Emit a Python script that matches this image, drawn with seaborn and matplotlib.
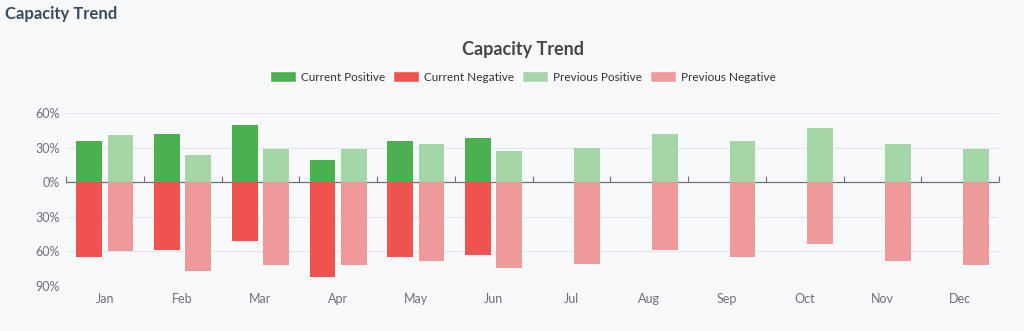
import matplotlib
matplotlib.use("Agg")
import matplotlib.pyplot as plt
import seaborn as sns
import pandas as pd
import numpy as np
from matplotlib.patches import Patch
from matplotlib.ticker import FuncFormatter

months = ["Jan", "Feb", "Mar", "Apr", "May", "Jun", "Jul", "Aug", "Sep", "Oct", "Nov", "Dec"]
current_positive = [36, 42, 50, 19, 36, 38, None, None, None, None, None, None]
current_negative = [-65, -59, -51, -82, -65, -63, None, None, None, None, None, None]
previous_positive = [41, 24, 29, 29, 33, 27, 30, 42, 36, 47, 33, 29]
previous_negative = [-60, -77, -72, -72, -68, -74, -71, -59, -65, -54, -68, -72]

BG = "#f8f9fb"
C_POS, C_NEG = "#4caf50", "#ef5350"
P_POS, P_NEG = "#a5d6a7", "#ef9a9a"
GRAY = "#6e7079"

sns.set_theme(style="white")
plt.rcParams["font.family"] = ["Lato", "DejaVu Sans"]

pos = pd.DataFrame({
    "month": months * 2,
    "period": ["Current"] * 12 + ["Previous"] * 12,
    "value": current_positive + previous_positive,
}).astype({"value": float})
neg = pd.DataFrame({
    "month": months * 2,
    "period": ["Current"] * 12 + ["Previous"] * 12,
    "value": current_negative + previous_negative,
}).astype({"value": float})

fig = plt.figure(figsize=(10.24, 3.31), dpi=100, facecolor=BG)
ax = fig.add_axes([66 / 1024, 45 / 331, (999 - 66) / 1024, (286 - 113) / 331])
ax.set_facecolor(BG)

for ys in (60, 30, -30, -60, -90):
    ax.axhline(ys, color="#e3e8f0", lw=0.9, zorder=0)
ax.axhline(0, color=GRAY, lw=0.9, zorder=1)

sns.barplot(data=pos, x="month", y="value", hue="period", order=months,
            hue_order=["Current", "Previous"],
            palette={"Current": C_POS, "Previous": P_POS},
            width=0.8, gap=0.17, ax=ax, legend=False, saturation=1, errorbar=None, zorder=2)
sns.barplot(data=neg, x="month", y="value", hue="period", order=months,
            hue_order=["Current", "Previous"],
            palette={"Current": C_NEG, "Previous": P_NEG},
            width=0.8, gap=0.17, ax=ax, legend=False, saturation=1, errorbar=None, zorder=2)
for p in ax.patches:
    p.set_linewidth(0)

ax.set_xlim(-0.5, 11.5)
ax.set_ylim(-90, 60)
ax.set_yticks([60, 30, 0, -30, -60, -90])
ax.yaxis.set_major_formatter(FuncFormatter(lambda v, _: f"{abs(int(v))}%"))
ax.tick_params(axis="y", length=0, pad=4.5, labelsize=9, labelcolor=GRAY)
ax.tick_params(axis="x", length=0, pad=5, labelsize=9, labelcolor=GRAY)
ax.set_xlabel("")
ax.set_ylabel("")
for s in ax.spines.values():
    s.set_visible(False)

# boundary ticks on the zero line
sec = ax.secondary_xaxis(0.6)
sec.set_xticks(np.arange(-0.5, 12, 1))
sec.set_xticklabels([])
sec.tick_params(axis="x", direction="out", length=4, width=0.8, color=GRAY)
for k in ("top", "left", "right", "bottom"):
    sec.spines[k].set_visible(False)

fig.text(5 / 1024, 1 - 14 / 331, "Capacity Trend", ha="left", va="center",
         fontsize=12, fontweight="bold", color="#3a4a5f")
fig.text(523 / 1024, 1 - 50 / 331, "Capacity Trend", ha="center", va="center",
         fontsize=13, fontweight="bold", color="#464646")

handles = [Patch(facecolor=C_POS), Patch(facecolor=C_NEG), Patch(facecolor=P_POS), Patch(facecolor=P_NEG)]
labels = ["Current Positive", "Current Negative", "Previous Positive", "Previous Negative"]
fig.legend(handles, labels, loc="center", bbox_to_anchor=(523 / 1024, 1 - 77 / 331), ncol=4,
           frameon=False, fontsize=8.5, handlelength=2.2, handleheight=1.1,
           handletextpad=0.4, columnspacing=0.7, labelcolor="#333333")

fig.savefig("out.png", dpi=100, facecolor=BG)
